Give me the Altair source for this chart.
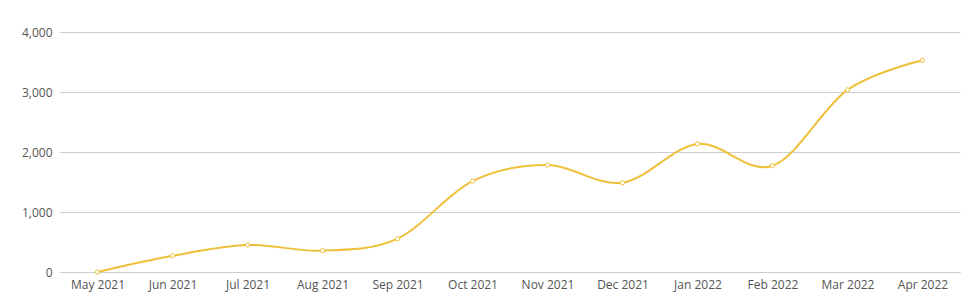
import altair as alt
import pandas as pd

months = ["May 2021", "Jun 2021", "Jul 2021", "Aug 2021", "Sep 2021", "Oct 2021",
          "Nov 2021", "Dec 2021", "Jan 2022", "Feb 2022", "Mar 2022", "Apr 2022"]
values = [0, 270, 450, 355, 555, 1515, 1783, 1488, 2135, 1770, 3035, 3530]

df = pd.DataFrame({"month": months, "value": values})

COLOR = "#EEC03A"
FONT = "Open Sans"

x = alt.X("month:N", sort=months, title=None,
          scale=alt.Scale(paddingInner=0, paddingOuter=0.5),
          axis=alt.Axis(labelAngle=0, labelFont=FONT, labelFontSize=12,
                        labelColor="#555555", domainColor="#cccccc",
                        ticks=False, labelPadding=7, grid=False))
y = alt.Y("value:Q", title=None,
          scale=alt.Scale(domain=[0, 4000], nice=False),
          axis=alt.Axis(values=[0, 1000, 2000, 3000, 4000], format=",.0f",
                        labelFont=FONT, labelFontSize=12, labelColor="#555555",
                        domain=False, ticks=False, labelPadding=8,
                        gridColor="#cccccc", gridWidth=1))

base = alt.Chart(df)
line = base.mark_line(color=COLOR, strokeWidth=2, interpolate="cardinal").encode(x=x, y=y)
pts = base.mark_point(filled=True, fill="white", stroke=COLOR, strokeWidth=1,
                      size=18, opacity=1, shape="circle").encode(x=x, y=y)

chart = (line + pts).properties(
    width=900, height=240,
    autosize=alt.AutoSizeParams(type="none"),
    padding={"left": 60, "top": 32, "right": 16, "bottom": 36},
).configure(background="white").configure_view(stroke=None)

chart.save("out.html", embed_options={"renderer": "svg", "actions": False})
